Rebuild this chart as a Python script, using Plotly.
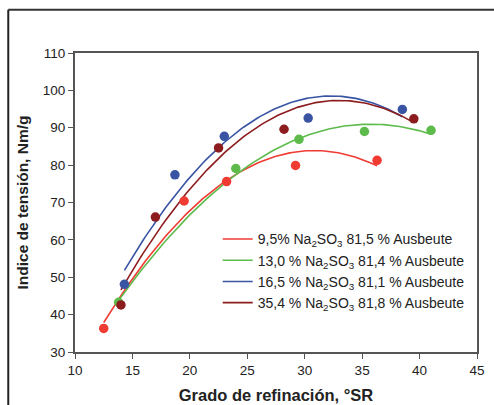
import numpy as np
import plotly.graph_objects as go

# Freeness (°SR) and tensile index (Nm/g) for each sulfite charge
labels = [
    "9,5% Na<sub>2</sub>SO<sub>3</sub> 81,5 % Ausbeute",
    "13,0 % Na<sub>2</sub>SO<sub>3</sub> 81,4 % Ausbeute",
    "16,5 % Na<sub>2</sub>SO<sub>3</sub> 81,1 % Ausbeute",
    "35,4 % Na<sub>2</sub>SO<sub>3</sub> 81,8 % Ausbeute",
]
colors = ["#EF3B32", "#5DBB4C", "#3A54A4", "#8C1C1E"]

sr_95 = [12.5, 19.5, 23.2, 29.2, 36.3]
ti_95 = [36.3, 70.4, 75.6, 79.9, 81.3]

sr_130 = [13.8, 24.0, 29.5, 35.2, 41.0]
ti_130 = [43.3, 79.1, 86.9, 89.0, 89.3]

sr_165 = [14.3, 18.7, 23.0, 30.3, 38.5]
ti_165 = [48.1, 77.4, 87.7, 92.6, 94.9]

sr_354 = [14.0, 17.0, 22.5, 28.2, 39.5]
ti_354 = [42.6, 66.1, 84.6, 89.6, 92.4]

series = [(sr_95, ti_95), (sr_130, ti_130), (sr_165, ti_165), (sr_354, ti_354)]

x_ticks = [10, 15, 20, 25, 30, 35, 40, 45]
y_ticks = [30, 40, 50, 60, 70, 80, 90, 100, 110]

fig = go.Figure()

# Second-order polynomial trendlines (shown in the legend)
for (sr, ti), name, col in zip(series, labels, colors):
    coef = np.polyfit(sr, ti, 2)
    xs = np.linspace(min(sr), max(sr), 120)
    fig.add_trace(go.Scatter(
        x=xs, y=np.polyval(coef, xs), mode="lines", name=name,
        line=dict(color=col, width=1.6), hoverinfo="skip",
    ))

# Measured points
for (sr, ti), name, col in zip(series, labels, colors):
    fig.add_trace(go.Scatter(
        x=sr, y=ti, mode="markers", showlegend=False, name=name,
        marker=dict(color=col, size=9.5, line=dict(width=0)),
    ))

FAMILY = "Liberation Sans, Arial, sans-serif"
tick_font = dict(family=FAMILY, size=13.5, color="#222222")

fig.update_layout(
    width=494, height=405,
    margin=dict(l=75, r=17, t=53, b=53),
    paper_bgcolor="white", plot_bgcolor="white",
    font=tick_font,
    xaxis=dict(
        range=[10, 45], tickvals=x_ticks, ticks="outside", ticklen=5,
        tickcolor="#555555", showgrid=False, zeroline=False,
        showline=True, linecolor="#555555", linewidth=2, mirror=True,
        tickfont=tick_font, automargin=False,
        title=dict(text="<b>Grado de refinación, °SR</b>",
                   font=dict(family=FAMILY, size=16.5, color="#222222"), standoff=12),
    ),
    yaxis=dict(
        range=[30, 110], tickvals=y_ticks, ticks="outside", ticklen=5,
        tickcolor="#555555", showgrid=False, zeroline=False,
        showline=True, linecolor="#555555", linewidth=2, mirror=True,
        tickfont=tick_font, automargin=False,
        title=dict(text="<b>Indice de tensión, Nm/g</b>",
                   font=dict(family=FAMILY, size=15.5, color="#222222"), standoff=10),
    ),
    legend=dict(
        x=0.355, y=0.43, xanchor="left", yanchor="top",
        bgcolor="rgba(0,0,0,0)", font=dict(family=FAMILY, size=14, color="#222222"),
        tracegroupgap=0, itemwidth=30,
    ),
    shapes=[
        # outer chart frame
        dict(type="line", xref="paper", yref="paper",
             x0=-0.166, x1=1.05, y0=1.145, y1=1.145,
             line=dict(color="#333333", width=2)),
        dict(type="line", xref="paper", yref="paper",
             x0=-0.166, x1=-0.166, y0=1.145, y1=-0.2,
             line=dict(color="#222222", width=2)),
    ],
)

fig.write_html("out.html")
